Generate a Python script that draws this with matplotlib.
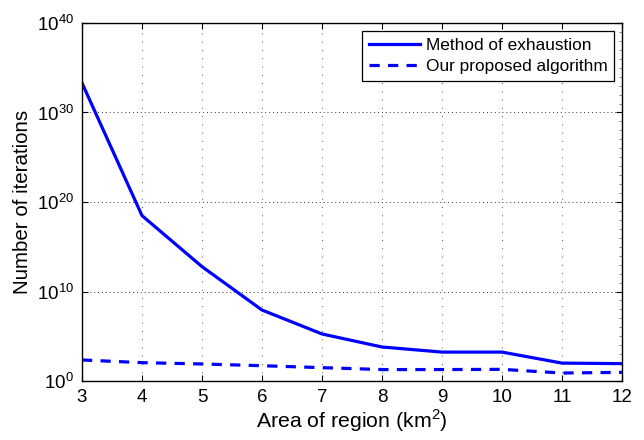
import matplotlib
matplotlib.use("Agg")
import matplotlib.pyplot as plt
from matplotlib.ticker import FixedLocator, NullFormatter

plt.rcParams['font.family'] = ['Liberation Sans', 'DejaVu Sans']
plt.rcParams['mathtext.fontset'] = 'custom'
plt.rcParams['mathtext.rm'] = 'Liberation Sans'

area_km2 = [3, 4, 5, 6, 7, 8, 9, 10, 11, 12]
exhaustion_iters = [2.0e33, 3.0e18, 6.0e12, 8.5e7, 1.8e5, 6.3e3, 1.7e3, 1.7e3, 100, 87]
proposed_iters = [224, 112, 80, 51, 31, 19, 19, 20, 7.8, 9.3]

x_ticks = list(range(3, 13))
y_ticks = [1e0, 1e10, 1e20, 1e30, 1e40]
y_tick_labels = [r'$10^{0}$', r'$10^{10}$', r'$10^{20}$', r'$10^{30}$', r'$10^{40}$']

fig = plt.figure(figsize=(6.44, 4.40), dpi=100)
ax = fig.add_axes([82 / 644, 1 - 381 / 440, 540 / 644, 358 / 440])

ax.semilogy(area_km2, exhaustion_iters, '-', color='#0000ff', lw=2.3,
            label='Method of exhaustion', solid_joinstyle='round')
ax.semilogy(area_km2, proposed_iters, '--', color='#0000ff', lw=2.3,
            dashes=(3.2, 2.6), label='Our proposed algorithm')

ax.set_xlim(3, 12)
ax.set_ylim(1e0, 1e40)
ax.set_xticks(x_ticks)
ax.set_xticklabels([str(v) for v in x_ticks])
ax.set_yticks(y_ticks)
ax.set_yticklabels(y_tick_labels)
ax.yaxis.set_minor_locator(FixedLocator([10.0 ** k for k in range(1, 40)]))
ax.yaxis.set_minor_formatter(NullFormatter())

ax.tick_params(axis='both', which='major', direction='in', length=4, width=0.8,
               top=True, right=True, labelsize=13.5, pad=6, colors='black')
ax.tick_params(axis='y', which='minor', direction='in', length=2, width=0.5,
               left=False, right=True, colors='#555555')

for s in ax.spines.values():
    s.set_linewidth(1.0)

# horizontal grid at major decades, vertical grid at each x tick
for yv in y_ticks[1:-1]:
    ax.axhline(yv, color='#333333', lw=0.7, ls=(0, (1, 3)), zorder=0)
for xv in x_ticks[1:-1]:
    ax.axvline(xv, color='#555555', lw=0.7, ls=(0, (1, 7.5)), zorder=0)

ax.set_xlabel(r'Area of region (km$^{2}$)', fontsize=15.3, labelpad=1)
ax.set_ylabel('Number of iterations', fontsize=14.8, labelpad=3)

leg = ax.legend(loc='upper right', fontsize=12.4, frameon=True, fancybox=False,
                edgecolor='black', framealpha=1, borderpad=0.4, labelspacing=0.35,
                handlelength=3.0, handletextpad=0.3, borderaxespad=0.45)
leg.get_frame().set_linewidth(0.9)

fig.savefig('out.png', dpi=100)
